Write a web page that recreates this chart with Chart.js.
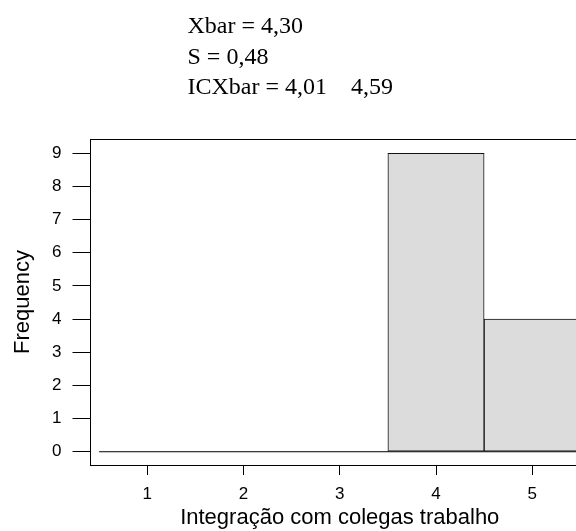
<!DOCTYPE html>
<html>
<head>
<meta charset="utf-8">
<script src="https://cdn.jsdelivr.net/npm/chart.js@4/dist/chart.umd.min.js"></script>
<style>
  html, body { margin: 0; padding: 0; background: #fff; overflow: hidden; }
  #wrap { width: 600px; height: 531px; }
</style>
</head>
<body>
<div id="wrap"><canvas id="hist" width="600" height="531"></canvas></div>
<script>
// Histogram data
var bins = [1, 2, 3, 4, 5];
var counts = [0, 0, 0, 9, 4];
var xTicks = [1, 2, 3, 4, 5];
var yTicks = [0, 1, 2, 3, 4, 5, 6, 7, 8, 9];

// Summary text shown above the plot
var xbarText = '4,30';
var sText = '0,48';
var icText = ['4,01', '4,59'];

var barPoints = bins.map(function (b, i) { return { x: b, y: counts[i] }; });
// zero-height bins are drawn as a flat line on the baseline
var zeroLine = [{ x: bins[0] - 0.5, y: 0 }, { x: bins[bins.length - 1] + 0.5, y: 0 }];

// Draws the box around the plot and the summary lines
var boxAndText = {
  id: 'boxAndText',
  afterDatasetsDraw: function (chart) {
    var ctx = chart.ctx;
    var a = chart.chartArea;
    ctx.save();
    ctx.strokeStyle = '#000';
    ctx.lineWidth = 1;
    ctx.strokeRect(Math.round(a.left) + 0.5, Math.round(a.top) + 0.5,
      Math.round(a.right - a.left), Math.round(a.bottom - a.top));
    ctx.fillStyle = '#000';
    ctx.font = '24px "Liberation Serif", "Times New Roman", serif';
    ctx.textBaseline = 'alphabetic';
    ctx.textAlign = 'left';
    ctx.fillText('Xbar = ' + xbarText, 187.5, 33);
    ctx.fillText('S = ' + sText, 187.5, 63.5);
    ctx.fillText('ICXbar = ' + icText[0] + '    ' + icText[1], 187.5, 94);
    ctx.restore();
  }
};

Chart.defaults.font.family = '"Liberation Sans", Arial, sans-serif';
Chart.defaults.color = '#000';

var ctx = document.getElementById('hist');
var myChart = new Chart(ctx, {
  type: 'bar',
  data: {
    datasets: [{
      type: 'line',
      data: zeroLine,
      borderColor: '#000',
      borderWidth: 1,
      pointRadius: 0,
      fill: false,
      order: 0
    }, {
      data: barPoints,
      backgroundColor: '#dcdcdc',
      borderColor: '#111',
      borderWidth: 1,
      borderSkipped: false,
      categoryPercentage: 1,
      barPercentage: 1,
      order: 1
    }]
  },
  options: {
    responsive: false,
    animation: false,
    layout: { padding: { top: 139, right: 10, left: 0, bottom: 0 } },
    plugins: {
      legend: { display: false },
      tooltip: { enabled: false },
      title: { display: false }
    },
    scales: {
      x: {
        type: 'linear',
        offset: false,
        min: 0.4,
        max: 5.6,
        afterFit: function (scale) { scale.height = 66; },
        afterBuildTicks: function (scale) {
          scale.ticks = xTicks.map(function (v) { return { value: v }; });
        },
        border: { display: false },
        grid: { offset: false, drawOnChartArea: false, drawTicks: true, tickLength: 10, color: '#000', lineWidth: 1 },
        ticks: { padding: 9, font: { size: 17 }, color: '#000', maxRotation: 0 },
        title: {
          display: true,
          text: 'Integração com colegas trabalho',
          font: { size: 22 },
          color: '#000',
          padding: { top: 0, bottom: 0 }
        }
      },
      y: {
        type: 'linear',
        min: -0.4,
        max: 9.43,
        afterFit: function (scale) { scale.width = 89.5; },
        afterBuildTicks: function (scale) {
          scale.ticks = yTicks.map(function (v) { return { value: v }; });
        },
        border: { display: false },
        grid: { drawOnChartArea: false, drawTicks: true, tickLength: 17, color: '#000', lineWidth: 1 },
        ticks: { padding: 11, font: { size: 17 }, color: '#000' },
        title: {
          display: true,
          text: 'Frequency',
          font: { size: 22 },
          color: '#000',
          padding: { top: 10, bottom: 0 }
        }
      }
    }
  },
  plugins: [boxAndText]
});
</script>
</body>
</html>
